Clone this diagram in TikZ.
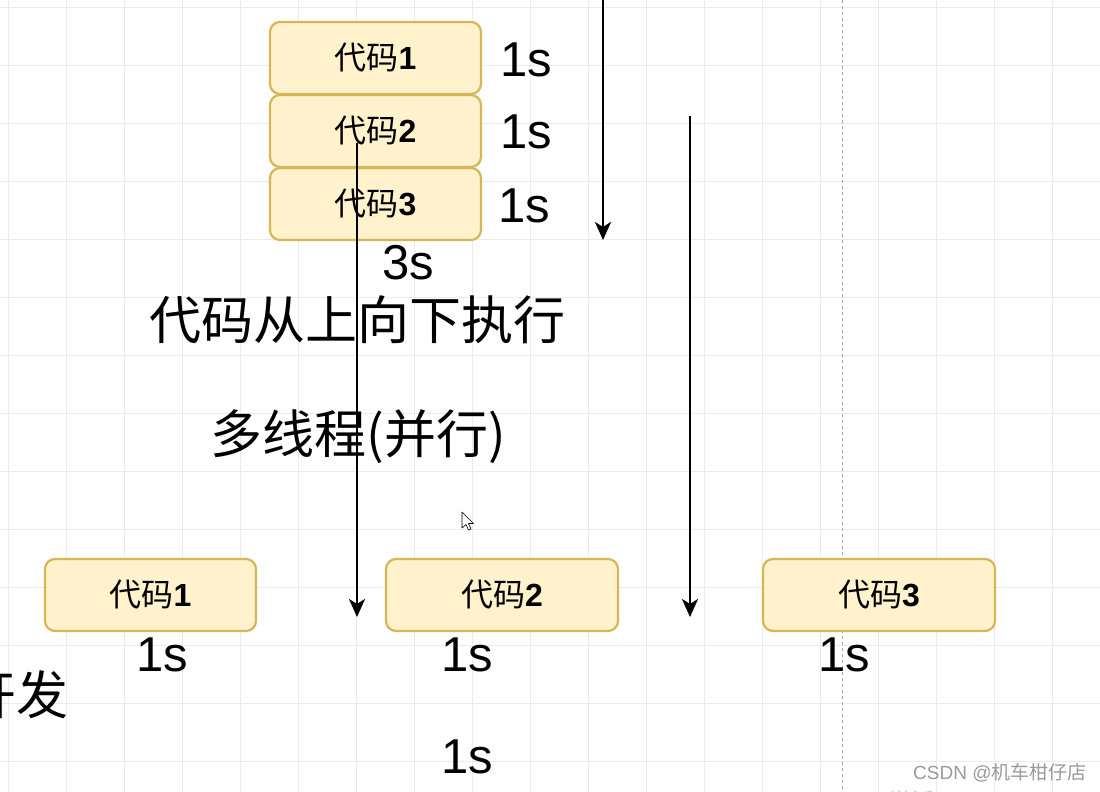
\documentclass[tikz,border=0pt]{standalone}
\usepackage{fontspec}
\setmainfont{Liberation Sans}
\newfontfamily\cjk{Noto Sans CJK SC}
\usetikzlibrary{arrows.meta}
\definecolor{boxfill}{HTML}{FFF2CC}
\definecolor{boxline}{HTML}{D6B656}
\definecolor{gridc}{HTML}{EBEBEB}
\definecolor{wmark}{HTML}{9A9A9A}
\begin{document}
\begin{tikzpicture}[x=1pt,y=-1pt,
  codebox/.style={draw=boxline, fill=boxfill, line width=2.2pt, rounded corners=10pt,
    minimum height=72pt, inner sep=0pt, font=\fontsize{32}{34}\selectfont},
  bigtxt/.style={inner sep=0pt, font=\fontsize{49}{50}\selectfont},
  cjktxt/.style={inner sep=0pt, font=\fontsize{52}{54}\selectfont\cjk},
  flow/.style={line width=2.6pt, -{Stealth[length=18pt,width=16pt,inset=5pt]}},
  gridline/.style={gridc, line width=0.9pt},
  pagesplit/.style={draw=gray!70, line width=0.8pt, dash pattern=on 3pt off 3pt}
]
\useasboundingbox (0,0) rectangle (1100,792);
\clip (0,0) rectangle (1100,792);
\fill[white] (0,0) rectangle (1100,792);
% grid
\foreach \gx in {8,66,...,1100} \draw[gridline] (\gx,0) -- (\gx,792);
\foreach \gy in {7,65,...,792} \draw[gridline] (0,\gy) -- (1100,\gy);
% page split dashed line
\draw[pagesplit] (842,0) -- (842,792);

% top stack
\node[codebox, minimum width=211pt] (t1) at (375.5,58) {{\cjk 代码}\textbf{1}};
\node[codebox, minimum width=211pt] (t2) at (375.5,131) {{\cjk 代码}\textbf{2}};
\node[codebox, minimum width=211pt] (t3) at (375.5,204) {{\cjk 代码}\textbf{3}};
\node[bigtxt] (s1) at (526,60) {1s};
\node[bigtxt] (s2) at (526,132) {1s};
\node[bigtxt] (s3) at (524,206) {1s};
\node[bigtxt] (s4) at (408,263) {3s};

\node[cjktxt] (l1) at (357,320) {代码从上向下执行};
\node[cjktxt] (l2) at (358,437) {多线程(并行)};
\node[cjktxt, anchor=east] (l3) at (69,695) {开发};

% bottom row
\node[codebox, minimum width=211pt] (b1) at (150.5,595) {{\cjk 代码}\textbf{1}};
\node[codebox, minimum width=232pt] (b2) at (502,595) {{\cjk 代码}\textbf{2}};
\node[codebox, minimum width=232pt] (b3) at (879,595) {{\cjk 代码}\textbf{3}};
\node[bigtxt] (u1) at (162,655) {1s};
\node[bigtxt] (u2) at (467,655) {1s};
\node[bigtxt] (u3) at (844,655) {1s};
\node[bigtxt] (u4) at (467,757) {1s};

% arrows
\coordinate (a1s) at (603,-2);
\coordinate (a1e) at (603,240);
\coordinate (a2s) at (357,143);
\coordinate (a2e) at (357,617);
\coordinate (a3s) at (690,116);
\coordinate (a3e) at (690,617);
\draw[flow] (a1s) -- (a1e);
\draw[flow] (a2s) -- (a2e);
\draw[flow] (a3s) -- (a3e);

% mouse cursor
\draw[fill=white, line width=0.6pt, line join=round]
  (462,512) -- (462,528) -- (466,524.5) -- (468.5,530) -- (471,529) -- (468.5,523.5) -- (473.5,523.5) -- cycle;

% watermarks
\node[inner sep=0pt, anchor=west, text=wmark, font=\fontsize{19}{20}\selectfont] (wm) at (913,773) {CSDN @{\cjk 机车柑仔店}};
\node[inner sep=0pt, anchor=west, text=gray!45, font=\fontsize{22}{24}\selectfont] (win) at (890,801) {{\cjk 激活} Windows};
\end{tikzpicture}
\end{document}
